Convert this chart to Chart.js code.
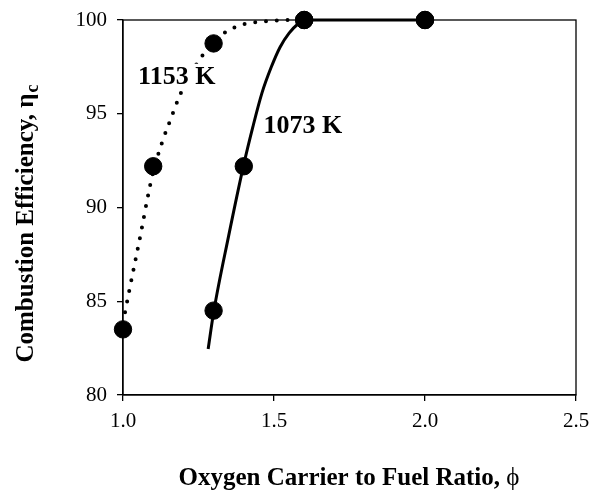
<!DOCTYPE html>
<html>
<head>
<meta charset="utf-8">
<script src="https://cdn.jsdelivr.net/npm/chart.js@4.4.1/dist/chart.umd.min.js"></script>
<style>
  html, body { margin: 0; padding: 0; background: #fff; }
</style>
</head>
<body>
<canvas id="chart" width="591" height="496"></canvas>
<script>
// measured points
const phi1153 = [1.0, 1.1, 1.3, 1.6, 2.0];
const eta1153 = [83.5, 92.2, 98.75, 100, 100];
const phi1073 = [1.3, 1.4, 1.6, 2.0];
const eta1073 = [84.5, 92.2, 100, 100];

// fitted curves
const fitPhi1153 = [1.0, 1.02, 1.04, 1.06, 1.08, 1.1, 1.13, 1.16, 1.19, 1.22, 1.25, 1.3, 1.35, 1.4, 1.45, 1.5, 1.55, 1.6];
const fitEta1153 = [83.85, 85.5, 87.1, 88.7, 90.4, 91.9, 93.5, 94.8, 96.05, 97.0, 97.8, 98.85, 99.45, 99.78, 99.9, 99.97, 100, 100];
const fitPhi1073 = [1.282, 1.3, 1.35, 1.4, 1.43, 1.46, 1.49, 1.52, 1.55, 1.58, 1.6, 2.0];
const fitEta1073 = [82.45, 84.4, 88.5, 92.3, 94.3, 96.1, 97.45, 98.55, 99.3, 99.8, 100, 100];

const xTicks = [1.0, 1.5, 2.0, 2.5];
const yTicks = [80, 85, 90, 95, 100];
const curveLabels = ["1153 K", "1073 K"];

const SERIF = '"Liberation Serif", "Times New Roman", serif';
const pts = (xs, ys) => xs.map((v, i) => ({ x: v, y: ys[i] }));

/* frame, curve labels and axis titles */
const textPlugin = {
  id: "textPlugin",
  beforeDatasetsDraw(chart) {
    const { ctx, chartArea: a } = chart;
    ctx.save();
    ctx.strokeStyle = "#000";
    ctx.lineWidth = 1.3;
    ctx.strokeRect(a.left, a.top, a.right - a.left, a.bottom - a.top);
    ctx.restore();
  },
  afterDatasetsDraw(chart) {
    const { ctx, scales: { x, y } } = chart;
    const anchors = [[1.05, 96.6], [1.465, 93.97]];
    ctx.save();
    ctx.textBaseline = "alphabetic";
    ctx.font = "bold 26px " + SERIF;
    curveLabels.forEach((txt, i) => {
      const px = x.getPixelForValue(anchors[i][0]);
      const py = y.getPixelForValue(anchors[i][1]);
      const w = ctx.measureText(txt).width;
      ctx.fillStyle = "#fff";
      ctx.fillRect(px - 2, py - 20, w + 4, 23);
      ctx.fillStyle = "#000";
      ctx.fillText(txt, px, py);
    });

    // x axis title
    const t1 = "Oxygen Carrier to Fuel Ratio, ";
    const t2 = "\u03d5";
    ctx.font = "bold 25px " + SERIF;
    const w1 = ctx.measureText(t1).width;
    ctx.font = "25px " + SERIF;
    const w2 = ctx.measureText(t2).width;
    let sx = 349 - (w1 + w2) / 2;
    ctx.font = "bold 25px " + SERIF;
    ctx.fillText(t1, sx, 485);
    ctx.font = "25px " + SERIF;
    ctx.fillText(t2, sx + w1, 485);

    // y axis title
    const y1 = "Combustion Efficiency, \u03b7";
    const y2 = "c";
    ctx.translate(33, 224);
    ctx.rotate(-Math.PI / 2);
    ctx.font = "bold 25px " + SERIF;
    const v1 = ctx.measureText(y1).width;
    ctx.font = "bold 18px " + SERIF;
    const v2 = ctx.measureText(y2).width;
    const sy = -(v1 + v2) / 2;
    ctx.font = "bold 25px " + SERIF;
    ctx.fillText(y1, sy, 0);
    ctx.font = "bold 18px " + SERIF;
    ctx.fillText(y2, sy + v1 + 1, 5);
    ctx.restore();
  }
};

new Chart(document.getElementById("chart"), {
  type: "line",
  data: {
    datasets: [
      {
        data: pts(fitPhi1153, fitEta1153),
        borderColor: "#000",
        borderWidth: 4,
        borderDash: [0, 10.8],
        borderCapStyle: "round",
        cubicInterpolationMode: "monotone",
        pointRadius: 0,
        clip: false
      },
      {
        data: pts(fitPhi1073, fitEta1073),
        borderColor: "#000",
        borderWidth: 3,
        cubicInterpolationMode: "monotone",
        pointRadius: 0,
        clip: false
      },
      {
        data: pts(phi1153, eta1153),
        showLine: false,
        pointRadius: 8.7,
        pointBackgroundColor: "#000",
        pointBorderColor: "#000",
        clip: false
      },
      {
        data: pts(phi1073, eta1073),
        showLine: false,
        pointRadius: 8.7,
        pointBackgroundColor: "#000",
        pointBorderColor: "#000",
        clip: false
      }
    ]
  },
  options: {
    responsive: false,
    animation: false,
    layout: { padding: { top: 20, right: 15, left: 0, bottom: 0 } },
    plugins: { legend: { display: false }, tooltip: { enabled: false } },
    scales: {
      x: {
        type: "linear",
        min: 1.0,
        max: 2.5,
        afterBuildTicks: (s) => { s.ticks = xTicks.map(v => ({ value: v })); },
        afterFit: (s) => { s.height = 101; s.paddingRight = 0; s.paddingLeft = 0; },
        ticks: {
          color: "#000",
          font: { family: SERIF, size: 21 },
          padding: 8,
          maxRotation: 0,
          callback: (v) => Number(v).toFixed(1)
        },
        grid: { drawOnChartArea: false, color: "#000", tickLength: 6, lineWidth: 1.3 },
        border: { color: "#000", width: 1.3 }
      },
      y: {
        min: 80,
        max: 100,
        afterBuildTicks: (s) => { s.ticks = yTicks.map(v => ({ value: v })); },
        afterFit: (s) => { s.width = 123; s.paddingTop = 0; s.paddingBottom = 0; },
        ticks: {
          color: "#000",
          font: { family: SERIF, size: 21 },
          padding: 10
        },
        grid: { drawOnChartArea: false, color: "#000", tickLength: 6, lineWidth: 1.3 },
        border: { color: "#000", width: 1.3 }
      }
    }
  },
  plugins: [textPlugin]
});
</script>
</body>
</html>
